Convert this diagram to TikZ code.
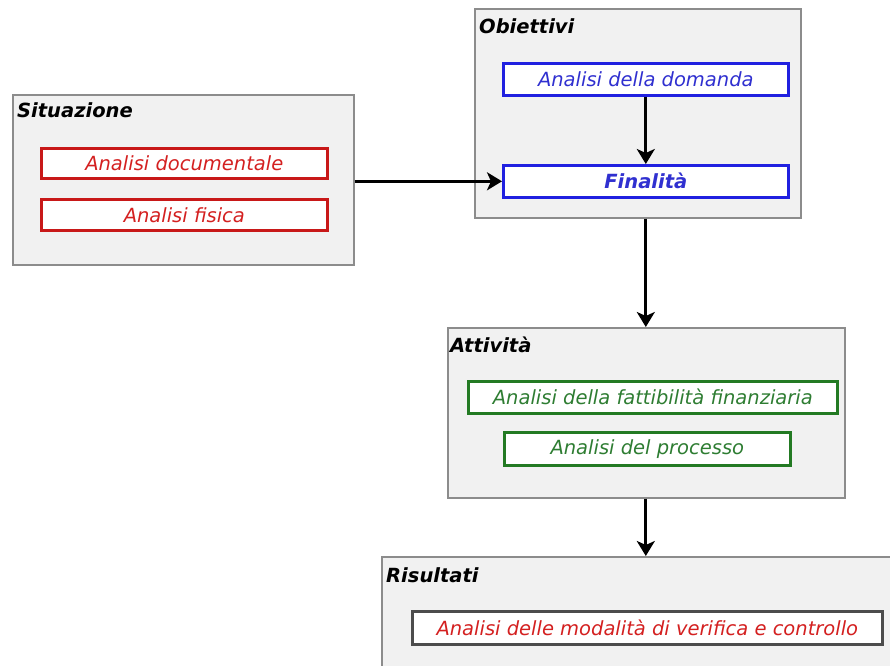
\documentclass[tikz,border=0pt]{standalone}
\usepackage{fontspec}
\setmainfont{DejaVu Sans}
\usetikzlibrary{arrows.meta}
\definecolor{panelfill}{HTML}{F1F1F1}
\definecolor{panelline}{HTML}{8C8C8C}
\definecolor{myred}{HTML}{D42020}
\definecolor{myredline}{HTML}{C81818}
\definecolor{myblue}{HTML}{3030D0}
\definecolor{mybline}{HTML}{2020E0}
\definecolor{mygreen}{HTML}{2E7D32}
\definecolor{mygline}{HTML}{237A23}
\tikzset{
  panel/.style={draw=panelline, line width=1.5pt, fill=panelfill, anchor=north west, inner sep=0pt},
  ptitle/.style={anchor=base west, inner sep=0pt, font=\fontsize{19.5}{22}\selectfont\bfseries\itshape},
  item/.style={draw, line width=2.6pt, fill=white, anchor=north west, inner sep=0pt,
    font=\fontsize{19.5}{22}\selectfont\itshape},
  redbox/.style={item, draw=myredline, text=myred},
  bluebox/.style={item, draw=mybline, text=myblue},
  greenbox/.style={item, draw=mygline, text=mygreen},
  greybox/.style={item, draw=black!70, text=myred},
  arr/.style={-{Stealth[length=15pt,width=18pt,inset=4pt]}, line width=3pt, black}
}
\begin{document}
\begin{tikzpicture}[x=1pt,y=-1pt]
\useasboundingbox (0,0) rectangle (890,665);
\clip (0,0) rectangle (890,665);
\fill[white] (0,0) rectangle (890,665);
% Situazione
\node[panel, minimum width=341pt, minimum height=170pt] (sit) at (12,94) {};
\node[ptitle] (sitt) at (17,117) {Situazione};
\node[redbox, minimum width=286pt, minimum height=30pt] (docu) at (40,147) {Analisi documentale};
\node[redbox, minimum width=286pt, minimum height=31pt] (fis) at (40,198) {Analisi fisica};
% Obiettivi
\node[panel, minimum width=326pt, minimum height=209pt] (obi) at (474,8) {};
\node[ptitle] (obit) at (479,33) {Obiettivi};
\node[bluebox, minimum width=285pt, minimum height=32pt] (dom) at (502,62) {Analisi della domanda};
\node[bluebox, minimum width=285pt, minimum height=32pt, font=\fontsize{19.5}{22}\selectfont\bfseries\itshape] (fin) at (502,164) {Finalità};
% Attivita
\node[panel, minimum width=397pt, minimum height=170pt] (att) at (447,327) {};
\node[ptitle] (attt) at (450,352) {Attività};
\node[greenbox, minimum width=369pt, minimum height=32pt] (fat) at (467,380) {Analisi della fattibilità finanziaria};
\node[greenbox, minimum width=286pt, minimum height=33pt] (pro) at (503,431) {Analisi del processo};
% Risultati
\node[panel, minimum width=520pt, minimum height=120pt] (ris) at (381,556) {};
\node[ptitle] (rist) at (386,582) {Risultati};
\node[greybox, minimum width=470pt, minimum height=33pt] (mod) at (411,610) {Analisi delle modalità di verifica e controllo};
% arrows
\draw[arr] (dom.south) -- (fin.north);
\draw[arr] (sit.east |- fin.west) -- (fin.west);
\draw[arr] (obi.south -| fin.south) -- (att.north -| fin.south);
\draw[arr] (att.south -| fin.south) -- (ris.north -| fin.south);
\end{tikzpicture}
\end{document}
